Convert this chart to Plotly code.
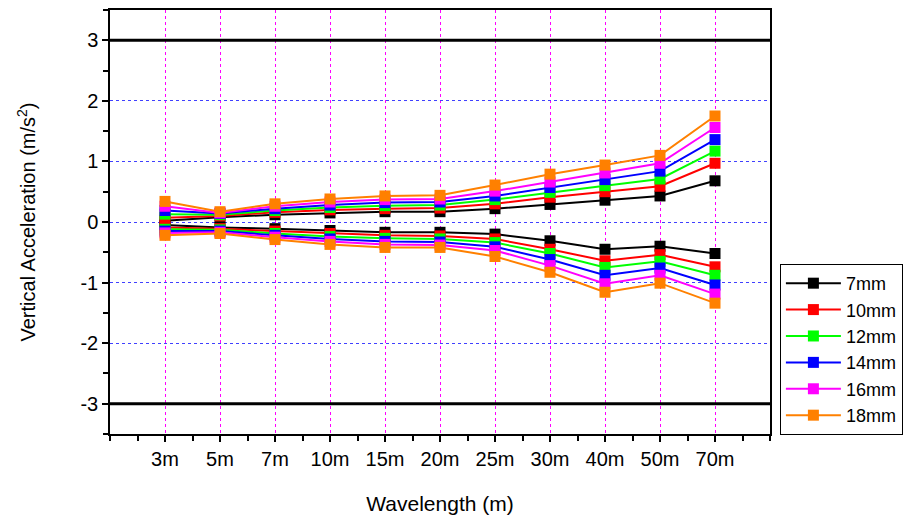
import plotly.graph_objects as go

categories = ["3m", "5m", "7m", "10m", "15m", "20m", "25m", "30m", "40m", "50m", "70m"]
series_names = ["7mm", "10mm", "12mm", "14mm", "16mm", "18mm"]
colors = ["#000000", "#ff0000", "#00ff00", "#0000ff", "#ff00ff", "#ff8000"]

upper_7mm = [0.02, 0.08, 0.12, 0.15, 0.17, 0.17, 0.22, 0.29, 0.36, 0.43, 0.68]
upper_10mm = [0.07, 0.10, 0.16, 0.20, 0.22, 0.23, 0.30, 0.41, 0.50, 0.59, 0.97]
upper_12mm = [0.13, 0.12, 0.19, 0.24, 0.27, 0.28, 0.37, 0.49, 0.60, 0.71, 1.17]
upper_14mm = [0.19, 0.14, 0.22, 0.28, 0.32, 0.33, 0.43, 0.57, 0.70, 0.84, 1.36]
upper_16mm = [0.26, 0.15, 0.26, 0.33, 0.37, 0.38, 0.51, 0.66, 0.81, 0.97, 1.56]
upper_18mm = [0.34, 0.17, 0.30, 0.38, 0.43, 0.44, 0.61, 0.79, 0.94, 1.10, 1.75]

lower_7mm = [-0.05, -0.09, -0.11, -0.14, -0.17, -0.17, -0.20, -0.31, -0.45, -0.40, -0.52]
lower_10mm = [-0.09, -0.11, -0.15, -0.19, -0.22, -0.23, -0.28, -0.45, -0.64, -0.54, -0.74]
lower_12mm = [-0.12, -0.13, -0.19, -0.24, -0.27, -0.28, -0.34, -0.52, -0.75, -0.65, -0.88]
lower_14mm = [-0.15, -0.15, -0.22, -0.28, -0.32, -0.33, -0.41, -0.62, -0.88, -0.76, -1.04]
lower_16mm = [-0.18, -0.17, -0.25, -0.32, -0.37, -0.38, -0.47, -0.72, -1.02, -0.88, -1.19]
lower_18mm = [-0.22, -0.19, -0.29, -0.37, -0.42, -0.42, -0.57, -0.83, -1.16, -1.01, -1.34]

y_tick_values = [-3, -2, -1, 0, 1, 2, 3]
y_tick_labels = ["-3", "-2", "-1", "0", "1", "2", "3"]
limit_levels = [3, -3]

upper = [upper_7mm, upper_10mm, upper_12mm, upper_14mm, upper_16mm, upper_18mm]
lower = [lower_7mm, lower_10mm, lower_12mm, lower_14mm, lower_16mm, lower_18mm]

xidx = list(range(len(categories)))
font = "Liberation Sans, Arial, sans-serif"

fig = go.Figure()
for name, col, up, lo in zip(series_names, colors, upper, lower):
    for k, vals in enumerate([up, lo]):
        fig.add_trace(go.Scatter(
            x=xidx, y=vals, mode="lines+markers", name=name,
            legendgroup=name, showlegend=(k == 0),
            line=dict(color=col, width=2),
            marker=dict(symbol="square", size=11, color=col),
        ))

for lv in limit_levels:
    fig.add_shape(type="line", xref="paper", x0=0, x1=1, yref="y", y0=lv, y1=lv,
                  line=dict(color="black", width=3), layer="above")

fig.update_layout(
    width=920, height=517,
    margin=dict(l=102, r=158, t=2, b=91, autoexpand=False),
    paper_bgcolor="white", plot_bgcolor="white",
    font=dict(family=font, size=20, color="black"),
    showlegend=True,
    legend=dict(x=1.015, y=0.401, xanchor="left", yanchor="top",
                bordercolor="black", borderwidth=1, bgcolor="white",
                font=dict(size=18), itemwidth=55, tracegroupgap=0,
                entrywidth=140, entrywidthmode="pixels"),
)
fig.update_xaxes(
    range=[-1, 11], tickmode="array", tickvals=xidx, ticktext=categories,
    automargin=False,
    showline=True, linecolor="black", linewidth=1.5, mirror=True,
    ticks="outside", ticklen=6, tickwidth=1.5, tickcolor="black",
    showgrid=True, gridcolor="#ff00ff", griddash="dot", gridwidth=1,
    zeroline=False,
    minor=dict(tick0=-1, dtick=0.5, ticks="outside", ticklen=5, tickwidth=1.5,
               tickcolor="black", showgrid=False),
    title=dict(text="Wavelength (m)", font=dict(size=21), standoff=28),
    tickfont=dict(size=20),
)
fig.update_yaxes(
    range=[-3.5, 3.5], tickmode="array", tickvals=y_tick_values, ticktext=y_tick_labels,
    automargin=False,
    showline=True, linecolor="black", linewidth=1.5, mirror=True,
    ticks="outside", ticklen=6, tickwidth=1.5, tickcolor="black",
    showgrid=True, gridcolor="#4040ff", griddash="dot", gridwidth=1,
    zeroline=False,
    minor=dict(tick0=-3.5, dtick=0.5, ticks="outside", ticklen=5, tickwidth=1.5,
               tickcolor="black", showgrid=False),
    title=dict(text="Vertical Acceleration (m/s<sup>2</sup>)", font=dict(size=20), standoff=39),
    tickfont=dict(size=20),
)

fig.write_html("out.html")
